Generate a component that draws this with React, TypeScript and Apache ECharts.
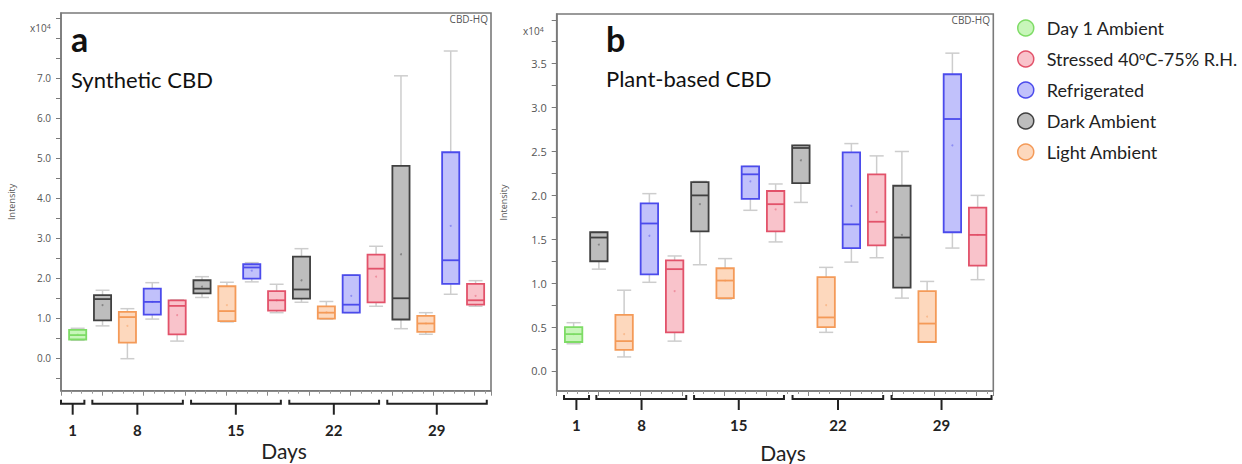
import React, { useEffect, useRef } from "react";
import * as echarts from "echarts";

// Conditions, in legend order
const CONDITIONS = [
  "Day 1 Ambient",
  "Stressed 40°C-75% R.H.",
  "Refrigerated",
  "Dark Ambient",
  "Light Ambient",
];
const DAY_LABELS = ["1", "8", "15", "22", "29"];

// Within each of days 8-29 the boxes run Dark, Light, Refrigerated, Stressed
const SLOT_ORDER = ["Dark Ambient", "Light Ambient", "Refrigerated", "Stressed 40°C-75% R.H."];

// Box statistics in units of 10^4: [min, q1, median, q3, max, mean]
const SYN_DAY1 = [[0.44, 0.46, 0.57, 0.70, 0.74, 0.58]];
const SYN_DARK = [
  [0.80, 0.94, 1.47, 1.57, 1.69, 1.32],
  [1.51, 1.61, 1.73, 1.94, 2.03, 1.78],
  [1.39, 1.48, 1.71, 2.53, 2.73, 1.94],
  [0.73, 0.96, 1.49, 4.80, 7.05, 2.59],
];
const SYN_LIGHT = [
  [-0.02, 0.38, 1.02, 1.15, 1.23, 0.80],
  [0.90, 0.92, 1.17, 1.79, 1.89, 1.32],
  [0.97, 0.98, 1.13, 1.29, 1.41, 1.14],
  [0.59, 0.65, 0.86, 1.05, 1.13, 0.86],
];
const SYN_REFRIG = [
  [0.97, 1.08, 1.40, 1.73, 1.88, 1.40],
  [1.90, 1.98, 2.26, 2.34, 2.38, 2.18],
  [1.13, 1.13, 1.33, 2.07, 2.07, 1.55],
  [1.59, 1.85, 2.44, 5.14, 7.67, 3.30],
];
const SYN_STRESS = [
  [0.42, 0.59, 1.30, 1.44, 1.45, 1.07],
  [1.13, 1.18, 1.44, 1.67, 1.84, 1.44],
  [1.29, 1.39, 2.23, 2.58, 2.79, 2.03],
  [1.29, 1.33, 1.44, 1.85, 1.93, 1.55],
];

const PLANT_DAY1 = [[0.31, 0.33, 0.42, 0.50, 0.55, 0.42]];
const PLANT_DARK = [
  [1.16, 1.25, 1.52, 1.58, 1.58, 1.44],
  [1.21, 1.59, 2.00, 2.15, 2.16, 1.90],
  [1.92, 2.14, 2.54, 2.57, 2.57, 2.40],
  [0.83, 0.95, 1.52, 2.11, 2.50, 1.55],
];
const PLANT_LIGHT = [
  [0.16, 0.24, 0.34, 0.64, 0.92, 0.42],
  [0.82, 0.83, 1.03, 1.17, 1.28, 1.03],
  [0.44, 0.50, 0.61, 1.07, 1.18, 0.75],
  [0.33, 0.33, 0.54, 0.91, 1.02, 0.62],
];
const PLANT_REFRIG = [
  [1.01, 1.10, 1.68, 1.91, 2.02, 1.54],
  [1.83, 1.96, 2.24, 2.33, 2.33, 2.16],
  [1.24, 1.40, 1.67, 2.49, 2.59, 1.88],
  [1.40, 1.58, 2.87, 3.38, 3.62, 2.57],
];
const PLANT_STRESS = [
  [0.34, 0.44, 1.16, 1.26, 1.31, 0.91],
  [1.47, 1.59, 1.90, 2.05, 2.13, 1.84],
  [1.29, 1.43, 1.70, 2.24, 2.45, 1.81],
  [1.04, 1.20, 1.55, 1.86, 2.00, 1.55],
];

// Y-axis ticks and labels
const SYN_Y_TICKS = [-0.5, 0, 0.5, 1, 1.5, 2, 2.5, 3, 3.5, 4, 4.5, 5, 5.5, 6, 6.5, 7, 7.5, 8, 8.5];
const SYN_Y_LABELS = [0, 1, 2, 3, 4, 5, 6, 7];
const PLANT_Y_TICKS = [0, 0.25, 0.5, 0.75, 1, 1.25, 1.5, 1.75, 2, 2.25, 2.5, 2.75, 3, 3.25, 3.5, 3.75, 4];
const PLANT_Y_LABELS = [0, 0.5, 1, 1.5, 2, 2.5, 3, 3.5];

// Day brackets under each panel, in box-slot units: [start, end, stem]
const SYN_BRACKETS = [[-0.67, 0.27, -0.2], [0.59, 4.23, 2.4], [4.56, 8.17, 6.36], [8.51, 12.12, 10.3], [12.45, 16.45, 14.44]];
const PLANT_BRACKETS = [[-0.38, 0.61, 0.11], [0.9, 4.46, 2.69], [4.77, 8.33, 6.54], [8.67, 12.26, 10.47], [12.59, 16.55, 14.57]];

const FONT = "Lato, 'Open Sans', sans-serif";
const AXIS_FONT = "'Open Sans', sans-serif";
const AXIS_GRAY = "#7a7a7a";
const WHISKER = "#cdcdcd";
const BOX_W = 0.69;
const CAP_W = 0.56;

const STYLES: Record<string, { fill: string; stroke: string }> = {
  "Day 1 Ambient": { fill: "#c8f6ba", stroke: "#7edc66" },
  "Stressed 40°C-75% R.H.": { fill: "#f9c3cb", stroke: "#e2526a" },
  Refrigerated: { fill: "#c1c1fb", stroke: "#4b4bec" },
  "Dark Ambient": { fill: "#bdbdbd", stroke: "#404040" },
  "Light Ambient": { fill: "#fdd8bd", stroke: "#f49a58" },
};

const X_MIN = -0.67;
const X_MAX = 16.62;

function slotsFor(cond: string): number[] {
  if (cond === "Day 1 Ambient") return [0];
  const k = SLOT_ORDER.indexOf(cond);
  return [0, 1, 2, 3].map((d) => 1 + d * 4 + k);
}

function boxRenderer(fill: string, stroke: string) {
  return (params: any, api: any) => {
    const x = api.value(0);
    const at = (v: number) => api.coord([x, v]);
    const [cx, yLo] = at(api.value(1));
    const yQ1 = at(api.value(2))[1];
    const yMed = at(api.value(3))[1];
    const yQ3 = at(api.value(4))[1];
    const yHi = at(api.value(5))[1];
    const yMean = at(api.value(6))[1];
    const bw = api.size([BOX_W, 0])[0];
    const cw = api.size([CAP_W, 0])[0];
    const wStyle = { stroke: WHISKER, lineWidth: 1.5 };
    return {
      type: "group",
      children: [
        { type: "line", shape: { x1: cx, y1: yHi, x2: cx, y2: yQ3 }, style: wStyle },
        { type: "line", shape: { x1: cx, y1: yQ1, x2: cx, y2: yLo }, style: wStyle },
        { type: "line", shape: { x1: cx - cw / 2, y1: yHi, x2: cx + cw / 2, y2: yHi }, style: wStyle },
        { type: "line", shape: { x1: cx - cw / 2, y1: yLo, x2: cx + cw / 2, y2: yLo }, style: wStyle },
        {
          type: "rect",
          shape: { x: cx - bw / 2, y: yQ3, width: bw, height: yQ1 - yQ3 },
          style: { fill, stroke, lineWidth: 1.8 },
        },
        {
          type: "line",
          shape: { x1: cx - bw / 2, y1: yMed, x2: cx + bw / 2, y2: yMed },
          style: { stroke, lineWidth: 1.8 },
        },
        { type: "circle", shape: { cx, cy: yMean, r: 1 }, style: { fill: stroke, opacity: 0.45 } },
      ],
    };
  };
}

function bracketRenderer(yMin: number, lineOff: number, labelOff: number) {
  return (params: any, api: any) => {
    const [x0, yb] = api.coord([api.value(0), yMin]);
    const x1 = api.coord([api.value(1), yMin])[0];
    const xs = api.coord([api.value(2), yMin])[0];
    const yl = yb + lineOff;
    const st = { stroke: "#222", lineWidth: 2, fill: null };
    return {
      type: "group",
      children: [
        { type: "polyline", shape: { points: [[x0, yl - 4], [x0, yl], [x1, yl], [x1, yl - 4]] }, style: st },
        { type: "line", shape: { x1: xs, y1: yl, x2: xs, y2: yl + 11 }, style: st },
        {
          type: "text",
          x: xs,
          y: yb + labelOff,
          style: {
            text: DAY_LABELS[params.dataIndex],
            fontFamily: FONT,
            fontWeight: "bold",
            fontSize: 15,
            fill: "#222",
            align: "center",
            verticalAlign: "middle",
          },
        },
      ],
    };
  };
}

function panelSeries(
  groups: Record<string, number[][]>,
  xAxisIndex: number,
  yAxisIndex: number
) {
  return CONDITIONS.map((cond) => {
    const rows = groups[cond];
    const slots = slotsFor(cond);
    const st = STYLES[cond];
    return {
      type: "custom",
      name: cond,
      xAxisIndex,
      yAxisIndex,
      itemStyle: { color: st.fill, borderColor: st.stroke },
      encode: { x: 0, y: [1, 2, 3, 4, 5] },
      data: rows.map((r, i) => [slots[i], ...r]),
      renderItem: boxRenderer(st.fill, st.stroke),
      silent: true,
    };
  });
}

function valueAxisY(gridIndex: number, min: number, max: number, ticks: number[], labels: number[], fontSize: number, margin: number, nameGap: number) {
  return {
    type: "value",
    gridIndex,
    min,
    max,
    position: "left",
    name: "Intensity",
    nameLocation: "middle",
    nameRotate: 90,
    nameGap,
    nameTextStyle: { fontSize: 9, color: "#555", fontFamily: AXIS_FONT },
    axisLine: { show: true, onZero: false, lineStyle: { color: AXIS_GRAY, width: 1.5 } },
    axisTick: { show: true, length: 5, customValues: ticks, lineStyle: { color: AXIS_GRAY, width: 1 } },
    axisLabel: {
      show: true,
      customValues: labels,
      formatter: (v: number) => v.toFixed(1),
      fontSize,
      color: "#555",
      fontFamily: AXIS_FONT,
      margin,
    },
    splitLine: { show: false },
  };
}

function rulerAxis(gridIndex: number) {
  return {
    type: "value",
    gridIndex,
    position: "bottom",
    min: 0,
    max: 41.6,
    interval: 4,
    axisLine: { show: true, onZero: false, lineStyle: { color: AXIS_GRAY, width: 1.5 } },
    axisTick: { show: true, length: 5, lineStyle: { color: "#888", width: 1 } },
    minorTick: { show: true, splitNumber: 4, length: 3, lineStyle: { color: "#999", width: 1 } },
    axisLabel: { show: false },
    splitLine: { show: false },
  };
}

function slotAxis(gridIndex: number) {
  return {
    type: "value",
    gridIndex,
    min: X_MIN,
    max: X_MAX,
    show: false,
    axisLine: { onZero: false },
    splitLine: { show: false },
  };
}

function buildOption() {
  const synGroups: Record<string, number[][]> = {
    "Day 1 Ambient": SYN_DAY1,
    "Stressed 40°C-75% R.H.": SYN_STRESS,
    Refrigerated: SYN_REFRIG,
    "Dark Ambient": SYN_DARK,
    "Light Ambient": SYN_LIGHT,
  };
  const plantGroups: Record<string, number[][]> = {
    "Day 1 Ambient": PLANT_DAY1,
    "Stressed 40°C-75% R.H.": PLANT_STRESS,
    Refrigerated: PLANT_REFRIG,
    "Dark Ambient": PLANT_DARK,
    "Light Ambient": PLANT_LIGHT,
  };
  const SYN_Y_MIN = -0.82;
  const PLANT_Y_MIN = -0.228;

  const title = (x: number, y: number, text: string, size: number, bold: boolean) => ({
    type: "text",
    x,
    y,
    style: {
      text,
      fontFamily: FONT,
      fontSize: size,
      fontWeight: bold ? "bold" : "normal",
      fill: "#111",
      verticalAlign: "middle",
    },
  });
  const small = (x: number, y: number, text: string, align: string) => ({
    type: "text",
    x,
    y,
    style: {
      text,
      fontFamily: AXIS_FONT,
      fontSize: 10,
      fill: "#555",
      align,
      verticalAlign: "middle",
      rich: { sup: { fontSize: 7, fill: "#555", fontFamily: AXIS_FONT, verticalAlign: "top" } },
    },
  });

  return {
    animation: false,
    backgroundColor: "#fff",
    grid: [
      { left: 61, top: 13, width: 430, height: 377.7, show: true, borderColor: AXIS_GRAY, borderWidth: 1.6, backgroundColor: "transparent" },
      { left: 556.7, top: 14, width: 436.6, height: 377, show: true, borderColor: AXIS_GRAY, borderWidth: 1.6, backgroundColor: "transparent" },
    ],
    xAxis: [slotAxis(0), rulerAxis(0), slotAxis(1), rulerAxis(1)],
    yAxis: [
      valueAxisY(0, SYN_Y_MIN, 8.62, SYN_Y_TICKS, SYN_Y_LABELS, 10, 10, 45),
      valueAxisY(1, PLANT_Y_MIN, 4.066, PLANT_Y_TICKS, PLANT_Y_LABELS, 11, 10, 49),
    ],
    legend: {
      data: CONDITIONS.map((name) => ({
        name,
        icon: "circle",
        itemStyle: { color: STYLES[name].fill, borderColor: STYLES[name].stroke, borderWidth: 1.5 },
      })),
      orient: "vertical",
      left: 1012,
      top: 14,
      itemWidth: 16,
      itemHeight: 17,
      itemGap: 13,
      selectedMode: false,
      formatter: (name: string) => name.replace("°", "{sup|o}"),
      textStyle: {
        fontFamily: FONT,
        fontSize: 18,
        color: "#222",
        padding: [0, 0, 0, 8],
        rich: { sup: { fontSize: 11, fontFamily: FONT, color: "#222", verticalAlign: "top" } },
      },
    },
    graphic: [
      title(71, 38, "a", 34, true),
      title(71, 79, "Synthetic CBD", 22, false),
      title(606, 38, "b", 34, true),
      title(606, 78, "Plant-based CBD", 22, false),
      small(488, 19, "CBD-HQ", "right"),
      small(990, 20, "CBD-HQ", "right"),
      small(30, 28, "x10{sup|4}", "left"),
      small(523, 31, "x10{sup|4}", "left"),
      { type: "text", x: 284, y: 450, style: { text: "Days", fontFamily: FONT, fontSize: 21, fill: "#222", align: "center", verticalAlign: "middle" } },
      { type: "text", x: 783, y: 452, style: { text: "Days", fontFamily: FONT, fontSize: 21, fill: "#222", align: "center", verticalAlign: "middle" } },
    ],
    series: [
      ...panelSeries(synGroups, 0, 0),
      ...panelSeries(plantGroups, 2, 1),
      {
        type: "custom",
        name: "days-a",
        xAxisIndex: 0,
        yAxisIndex: 0,
        silent: true,
        clip: false,
        encode: { x: [0, 1, 2] },
        data: SYN_BRACKETS,
        renderItem: bracketRenderer(SYN_Y_MIN, 13, 39),
      },
      {
        type: "custom",
        name: "days-b",
        xAxisIndex: 2,
        yAxisIndex: 1,
        silent: true,
        clip: false,
        encode: { x: [0, 1, 2] },
        data: PLANT_BRACKETS,
        renderItem: bracketRenderer(PLANT_Y_MIN, 8, 34),
      },
    ],
  };
}

export default function App() {
  const ref = useRef<HTMLDivElement>(null);
  useEffect(() => {
    if (!ref.current) return;
    const chart = echarts.init(ref.current, undefined, { renderer: "svg" });
    chart.setOption(buildOption() as any);
    return () => chart.dispose();
  }, []);
  return (
    <div
      ref={ref}
      style={{ position: "fixed", left: 0, top: 0, width: 1242, height: 464, background: "#fff" }}
    />
  );
}
